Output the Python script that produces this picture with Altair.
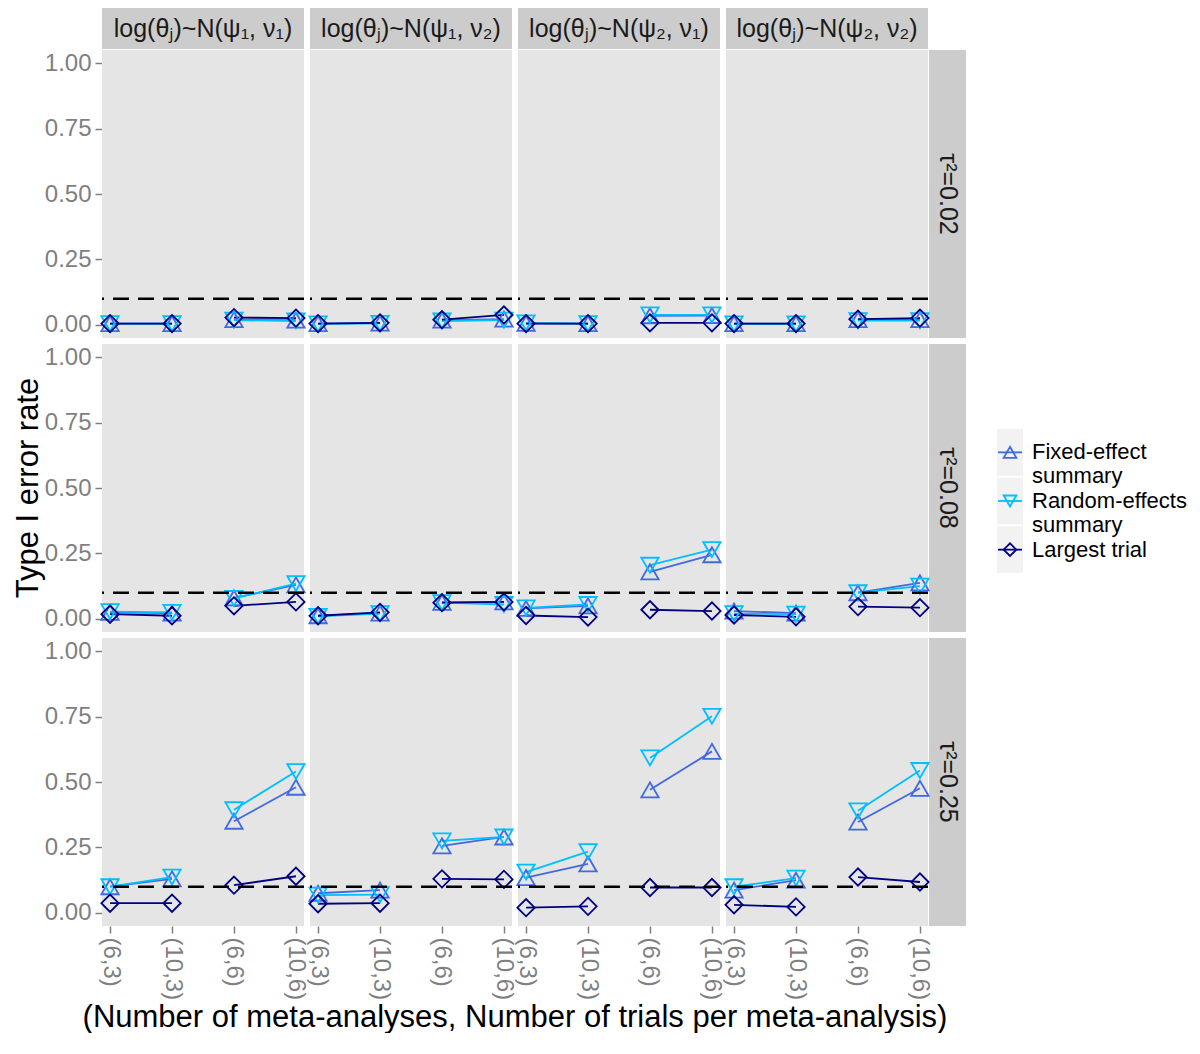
import altair as alt
import pandas as pd

# ---------------- data ----------------
settings = ["(6,3)", "(10,3)", "(6,6)", "(10,6)"]
trial_groups = ["3", "3", "6", "6"]
models = ["log(θⱼ)~N(ψ₁, ν₁)", "log(θⱼ)~N(ψ₁, ν₂)", "log(θⱼ)~N(ψ₂, ν₁)", "log(θⱼ)~N(ψ₂, ν₂)"]
taus = ["τ²=0.02", "τ²=0.08", "τ²=0.25"]
series_names = ["Fixed-effect summary", "Random-effects summary", "Largest trial"]
legend_labels = ["Fixed-effect\nsummary", "Random-effects\nsummary", "Largest trial"]
series_colors = ["#4169E1", "#00BFFF", "#000080"]
series_shapes = ["triangle-up", "triangle-down", "diamond"]
threshold = 0.1
y_title = "Type I error rate"
x_title = "(Number of meta-analyses, Number of trials per meta-analysis)"

# each list: one row per model (4 models), 4 values per settings
fe_tau002 = [[0.005, 0.005, 0.020, 0.018], [0.005, 0.007, 0.018, 0.022],
             [0.006, 0.005, 0.035, 0.036], [0.005, 0.005, 0.020, 0.020]]
re_tau002 = [[0.005, 0.005, 0.018, 0.015], [0.004, 0.006, 0.015, 0.018],
             [0.008, 0.005, 0.038, 0.038], [0.004, 0.004, 0.016, 0.016]]
lt_tau002 = [[0.005, 0.005, 0.028, 0.026], [0.005, 0.008, 0.020, 0.038],
             [0.005, 0.005, 0.008, 0.008], [0.005, 0.005, 0.022, 0.026]]

fe_tau008 = [[0.025, 0.022, 0.080, 0.130], [0.012, 0.022, 0.063, 0.065],
             [0.040, 0.050, 0.180, 0.245], [0.030, 0.022, 0.100, 0.138]]
re_tau008 = [[0.028, 0.025, 0.078, 0.135], [0.010, 0.020, 0.062, 0.055],
             [0.042, 0.055, 0.205, 0.265], [0.020, 0.018, 0.100, 0.125]]
lt_tau008 = [[0.018, 0.012, 0.050, 0.065], [0.012, 0.025, 0.062, 0.065],
             [0.013, 0.007, 0.035, 0.030], [0.015, 0.008, 0.047, 0.043]]

fe_tau025 = [[0.100, 0.130, 0.350, 0.480], [0.075, 0.087, 0.256, 0.290],
             [0.135, 0.187, 0.470, 0.617], [0.087, 0.125, 0.347, 0.476]]
re_tau025 = [[0.100, 0.137, 0.394, 0.540], [0.068, 0.070, 0.275, 0.290],
             [0.156, 0.234, 0.592, 0.751], [0.100, 0.133, 0.390, 0.544]]
lt_tau025 = [[0.037, 0.037, 0.106, 0.140], [0.035, 0.037, 0.130, 0.128],
             [0.020, 0.025, 0.097, 0.097], [0.031, 0.023, 0.137, 0.118]]

values_by_tau = [
    [fe_tau002, re_tau002, lt_tau002],
    [fe_tau008, re_tau008, lt_tau008],
    [fe_tau025, re_tau025, lt_tau025],
]

rows = []
for ti, tau in enumerate(taus):
    for si, s in enumerate(series_names):
        for mi, m in enumerate(models):
            for xi, st in enumerate(settings):
                rows.append({"tau": tau, "model": m, "series": s, "setting": st,
                             "grp": s + "_" + trial_groups[xi],
                             "value": values_by_tau[ti][si][mi][xi]})
df = pd.DataFrame(rows)

# ---------------- style ----------------
FONT = "Liberation Sans, Arial, Helvetica, Noto Sans, DejaVu Sans, sans-serif"
W = 202
H = 288
STRIP_H = 41
RSTRIP_W = 37
PANEL_BG = "#E5E5E5"
STRIP_BG = "#CCCCCC"
GREY = "#7F7F7F"

color_scale = alt.Scale(domain=series_names, range=series_colors)
shape_scale = alt.Scale(domain=series_names, range=series_shapes)
y_scale = alt.Scale(domain=[-0.05, 1.05], nice=False, zero=False)

xenc = alt.X("setting:N", sort=settings,
             scale=alt.Scale(type="point", domain=settings, padding=0.13),
             axis=alt.Axis(labelAngle=90, tickSize=7, labelPadding=4,
                           labelOverlap=False, title=None))
yenc = alt.Y("value:Q", scale=y_scale,
             axis=alt.Axis(values=[0, 0.25, 0.5, 0.75, 1.0], format=".2f",
                           tickSize=7, labelPadding=4, title=None))
color = alt.Color("series:N", scale=color_scale, legend=None)
shape = alt.Shape("series:N", scale=shape_scale, legend=None)

base = alt.Chart()
one_per_cell = (alt.datum.series == series_names[0]) & (alt.datum.setting == settings[0])

# strip boxes (top strip for first row, right strip for last column)
top_rect = base.transform_filter(one_per_cell & (alt.datum.tau == taus[0])).mark_rect(
    color=STRIP_BG).encode(x=alt.value(0), x2=alt.value(W),
                           y=alt.value(-STRIP_H - 1), y2=alt.value(-1))
top_text = base.transform_filter(one_per_cell & (alt.datum.tau == taus[0])).mark_text(
    font=FONT, fontSize=25, color="#1A1A1A", baseline="middle", align="center").encode(
    x=alt.value(W / 2), y=alt.value(-STRIP_H / 2 - 1), text="model:N")
right_rect = base.transform_filter(one_per_cell & (alt.datum.model == models[3])).mark_rect(
    color=STRIP_BG).encode(x=alt.value(W + 1), x2=alt.value(W + 1 + RSTRIP_W),
                           y=alt.value(0), y2=alt.value(H))
right_text = base.transform_filter(one_per_cell & (alt.datum.model == models[3])).mark_text(
    font=FONT, fontSize=25, color="#1A1A1A", angle=90, baseline="middle", align="center").encode(
    x=alt.value(W + 1 + RSTRIP_W / 2), y=alt.value(H / 2), text="tau:N")

# overall axis titles (drawn once: left of middle row, below the panel block)
y_title_mark = base.transform_filter(
    one_per_cell & (alt.datum.tau == taus[1]) & (alt.datum.model == models[0])
).mark_text(text=y_title, font=FONT, fontSize=31, color="black", angle=270,
            baseline="middle", align="center").encode(
    x=alt.value(-73), y=alt.value(H / 2))
x_title_mark = base.transform_filter(
    one_per_cell & (alt.datum.tau == taus[2]) & (alt.datum.model == models[1])
).mark_text(text=x_title, font=FONT, fontSize=31, color="black",
            baseline="middle", align="center").encode(
    x=alt.value(W + 3), y=alt.value(H + 92))

lines = base.mark_line(strokeWidth=1.8).encode(
    x=xenc, y=yenc, color=color, detail="grp:N")
pts = base.mark_point(filled=False, size=300, strokeWidth=1.8, opacity=1).encode(
    x=xenc, y=yenc, color=color, shape=shape)
rule = base.transform_filter(one_per_cell).mark_rule(
    strokeDash=[16, 9], strokeWidth=2.4, color="black").encode(y=alt.datum(threshold))

grid = alt.layer(top_rect, top_text, right_rect, right_text, y_title_mark, x_title_mark,
                 lines, pts, rule, data=df).properties(width=W, height=H).facet(
    row=alt.Row("tau:N", sort=taus, title=None, header=alt.Header(labels=False)),
    column=alt.Column("model:N", sort=models, title=None, header=alt.Header(labels=False)),
    spacing={"row": 6, "column": 6},
    bounds="flush",
)

# manual legend (key = line + point on grey square)
leg_df = pd.DataFrame({"series": series_names, "label": legend_labels})
y_leg = alt.Y("series:N", sort=series_names,
              scale=alt.Scale(type="band", domain=series_names, paddingInner=0.04,
                              paddingOuter=0, range=[379, 523]),
              axis=None)
leg_base = alt.Chart(leg_df)
leg_rect = leg_base.mark_rect(color="#F2F2F2").encode(
    y=y_leg, x=alt.value(0), x2=alt.value(26))
leg_rule = leg_base.mark_rule(strokeWidth=1.8).encode(
    y=y_leg, x=alt.value(1), x2=alt.value(25),
    color=alt.Color("series:N", scale=color_scale, legend=None))
leg_pts = leg_base.mark_point(filled=False, size=160, strokeWidth=1.8, opacity=1).encode(
    y=y_leg, x=alt.value(13),
    color=alt.Color("series:N", scale=color_scale, legend=None),
    shape=alt.Shape("series:N", scale=shape_scale, legend=None))
leg_text = leg_base.mark_text(font=FONT, fontSize=22, align="left", baseline="middle",
                              lineBreak="\n", lineHeight=23.5, color="black").encode(
    y=y_leg, x=alt.value(35), text="label:N")
legend_chart = alt.layer(leg_rect, leg_rule, leg_pts, leg_text).properties(
    width=190, height=560, view=alt.ViewBackground(fill="transparent", stroke=None))

chart = alt.hconcat(grid, legend_chart, spacing=31).properties(
    padding={"left": 5, "top": 0, "right": 0, "bottom": 0}
).configure(
    font=FONT
).configure_axis(
    labelFont=FONT, labelFontSize=24, labelColor=GREY, tickColor=GREY,
    tickWidth=1.5, domain=False, grid=False,
    titleFont=FONT, titleFontSize=29, titleColor="black", titleFontWeight="normal"
).configure_view(stroke=None, fill=PANEL_BG)

chart.save("out.html", embed_options={"renderer": "svg", "actions": False})
